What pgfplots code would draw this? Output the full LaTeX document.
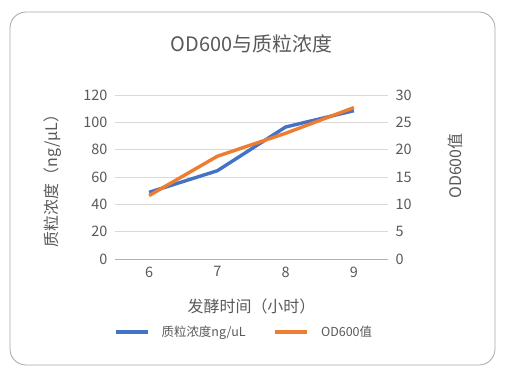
\documentclass[border=0pt]{standalone}
\usepackage{fontspec}
\setmainfont{Noto Sans CJK SC}
\usepackage{pgfplots}
\pgfplotsset{compat=1.18}
\definecolor{txt}{HTML}{595959}
\definecolor{grd}{HTML}{D9D9D9}
\definecolor{cblue}{HTML}{4472C4}
\definecolor{corange}{HTML}{ED7D31}
\begin{document}
\begin{tikzpicture}[x=1bp,y=1bp]
\useasboundingbox (0,0) rectangle (505,376);
\draw[color=black!35, line width=0.8bp, rounded corners=16bp] (10,11) rectangle (495,364);
\pgfplotsset{
  common/.style={
    at={(115bp,117bp)}, anchor=south west,
    width=273bp, height=164bp, scale only axis,
    xmin=5.5, xmax=9.5,
    /pgf/number format/assume math mode=true,
    ticklabel style={font=\fontsize{14.5}{15}\selectfont, text=txt},
    label style={font=\fontsize{16}{17}\selectfont, text=txt},
    major tick length=0pt,
  }
}
\begin{axis}[common,
  ymin=0, ymax=120, ytick={0,20,...,120},
  xtick={6,7,8,9},
  axis y line*=left, axis x line*=bottom,
  axis line style={draw=none},
  ymajorgrids, grid style={grd, line width=0.8bp},
  extra y ticks={0}, extra y tick labels={}, extra y tick style={grid style={color=black!30, line width=0.8bp}},
  yticklabel style={anchor=east, xshift=-4bp},
  xticklabel style={yshift=-4bp},
  ylabel={质粒浓度（ng/μL）},
  ylabel style={at={(axis description cs:-0.227,0.5)}, anchor=center, rotate=0},
  xlabel={发酵时间（小时）},
  xlabel style={at={(axis description cs:0.5,-0.29)}, anchor=center},
  title={OD600与质粒浓度},
  title style={at={(axis description cs:0.5,1.275)}, anchor=center, font=\fontsize{20}{21}\selectfont, text=txt},
]
\addplot[cblue, line width=3.4bp] coordinates {(6,48.8) (7,64.6) (8,96.6) (9,108.5)};
\end{axis}
\begin{axis}[common,
  ymin=0, ymax=30, ytick={0,5,...,30},
  axis y line*=right, axis x line=none,
  axis line style={draw=none},
  yticklabel style={anchor=west, xshift=4bp},
  ylabel={OD600值},
  ylabel style={at={(axis description cs:1.248,0.567)}, anchor=center, rotate=0},
  legend style={at={(axis description cs:0.473,-0.445)}, anchor=center, draw=none, fill=none,
    legend columns=2, font=\fontsize{12.5}{13}\selectfont, text=txt,
    /tikz/every odd column/.append style={column sep=10bp},
    /tikz/every even column/.append style={column sep=26bp}},
  legend image code/.code={\draw[#1, line width=3.4bp] (0bp,0bp) -- (32bp,0bp);},
]
\addlegendimage{cblue, line width=3.4bp}
\addlegendentry{质粒浓度ng/uL}
\addplot[corange, line width=3.4bp] coordinates {(6,11.6) (7,18.8) (8,23.0) (9,27.7)};
\addlegendentry{OD600值}
\end{axis}
\end{tikzpicture}
\end{document}
